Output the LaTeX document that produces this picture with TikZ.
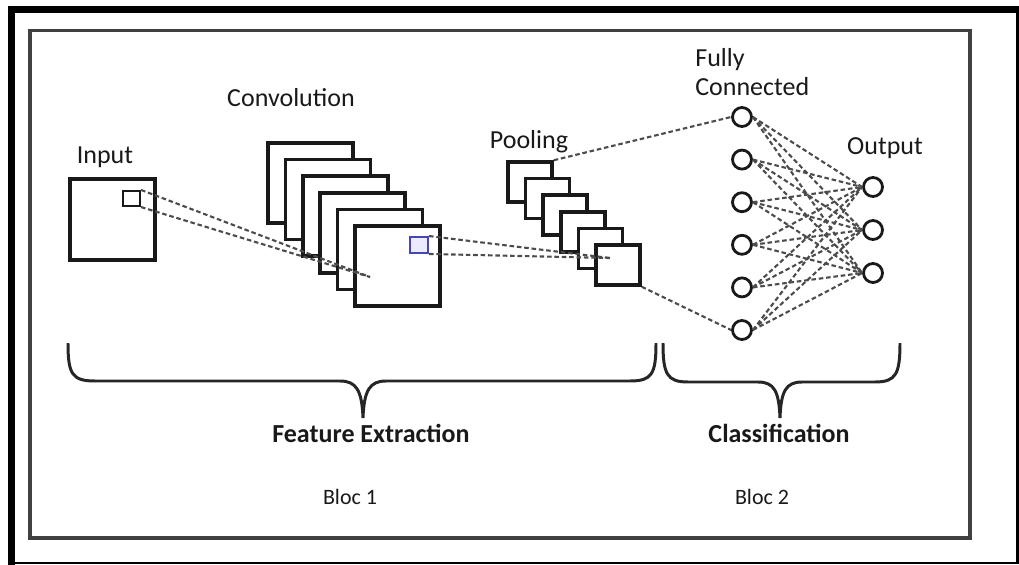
\documentclass[tikz,border=0pt]{standalone}
\usepackage{fontspec}
\setmainfont{Carlito}
\begin{document}
\begin{tikzpicture}[x=0.02cm,y=-0.02cm,
  frame/.style={draw=black!90,fill=white,line width=2pt,inner sep=0pt},
  convmap/.style={frame,minimum width=1.7cm,minimum height=1.6cm},
  poolmap/.style={frame,minimum width=0.88cm,minimum height=0.8cm},
  unit/.style={circle,draw=black!90,line width=1.6pt,minimum size=0.38cm,inner sep=0pt},
  link/.style={draw=black!70,line width=1.2pt,dash pattern=on 2.6pt off 1.6pt},
  lbl/.style={font=\fontsize{14.8}{16.5}\selectfont,text=black!90,inner sep=0pt},
  bloc/.style={font=\fontsize{12.5}{15}\selectfont,text=black!90,inner sep=0pt},
  brace/.style={draw=black!85,line width=1.7pt}]
  \useasboundingbox (0,0) rectangle (1019,565);
  \draw[line width=4pt] (11.5,565) -- (11.5,9.5) -- (1019,9.5);
  \draw[line width=1.7pt] (1017.5,9.5) -- (1017.5,563) -- (11.5,563);
  \draw[black!75,line width=2pt] (30,30.5) rectangle (970,538);

  \node[frame,minimum width=1.7cm,minimum height=1.62cm] (input) at (112.5,219.5) {};
  \node[frame,line width=1.2pt,minimum width=0.34cm,minimum height=0.3cm] (patch) at (131.5,198.5) {};
  \node[lbl] (inputlbl) at (105,157) {Input};

  \node[convmap] (conv1) at (310.5,183) {};
  \node[convmap] (conv2) at (327.9,199.6) {};
  \node[convmap] (conv3) at (345.3,216.2) {};
  \node[convmap] (conv4) at (362.7,232.8) {};
  \node[convmap] (conv5) at (380.1,249.4) {};
  \node[convmap] (conv6) at (397.5,266) {};
  \node[draw=blue!45!gray,fill=blue!8,line width=1.1pt,inner sep=0pt,minimum width=0.36cm,minimum height=0.32cm] (kernel) at (419,245) {};
  \node[lbl] (convlbl) at (291,98) {Convolution};

  \node[poolmap] (pool1) at (530,182) {};
  \node[poolmap] (pool2) at (547.6,198.6) {};
  \node[poolmap] (pool3) at (565.2,215.2) {};
  \node[poolmap] (pool4) at (582.8,231.8) {};
  \node[poolmap] (pool5) at (600.4,248.4) {};
  \node[poolmap] (pool6) at (618,265) {};
  \node[lbl] (poollbl) at (529,142) {Pooling};

  \node[unit] (fc1) at (742,117) {};
  \node[unit] (fc2) at (742,159.6) {};
  \node[unit] (fc3) at (742,202.2) {};
  \node[unit] (fc4) at (742,244.8) {};
  \node[unit] (fc5) at (742,287.4) {};
  \node[unit] (fc6) at (742,330) {};
  \node[lbl,align=left,anchor=west] (fclbl) at (695,72) {Fully\\Connected};

  \node[unit] (out1) at (873,187) {};
  \node[unit] (out2) at (873,230) {};
  \node[unit] (out3) at (873,273) {};
  \node[lbl] (outlbl) at (885,148) {Output};

  \coordinate (convend) at (370,277);
  \coordinate (poolend) at (610,258);
  \draw[link] (patch.north east) -- (convend);
  \draw[link] (patch.south east) -- (convend);
  \draw[link] (kernel.north east) -- (poolend);
  \draw[link] (kernel.south east) -- (poolend);
  \draw[link] (pool1.north east) -- (fc1.west);
  \draw[link] (pool6.south east) -- (fc6.west);
  \foreach \i in {1,...,6}
    \foreach \j in {1,2,3}
      \draw[link] (fc\i.east) -- (out\j.west);

  \draw[brace] (68,343) .. controls (68,374) and (72,381) .. (95,381) -- (340,381)
    .. controls (356,381) and (362,390) .. (363,418)
    .. controls (364,390) and (370,381) .. (386,381) -- (630,381)
    .. controls (652,381) and (656,374) .. (656,343);
  \draw[brace] (663,343) .. controls (663,374) and (667,382) .. (688,382) -- (758,382)
    .. controls (774,382) and (779,391) .. (780,418)
    .. controls (781,391) and (786,382) .. (802,382) -- (875,382)
    .. controls (896,382) and (900,374) .. (900,343);

  \node[lbl,font=\fontsize{14.8}{16.5}\selectfont\bfseries] (featlbl) at (371,433) {Feature Extraction};
  \node[lbl,font=\fontsize{14.8}{16.5}\selectfont\bfseries] (classlbl) at (779,433) {Classification};
  \node[bloc] (bloc1) at (350,497) {Bloc 1};
  \node[bloc] (bloc2) at (762,497) {Bloc 2};
\end{tikzpicture}
\end{document}
